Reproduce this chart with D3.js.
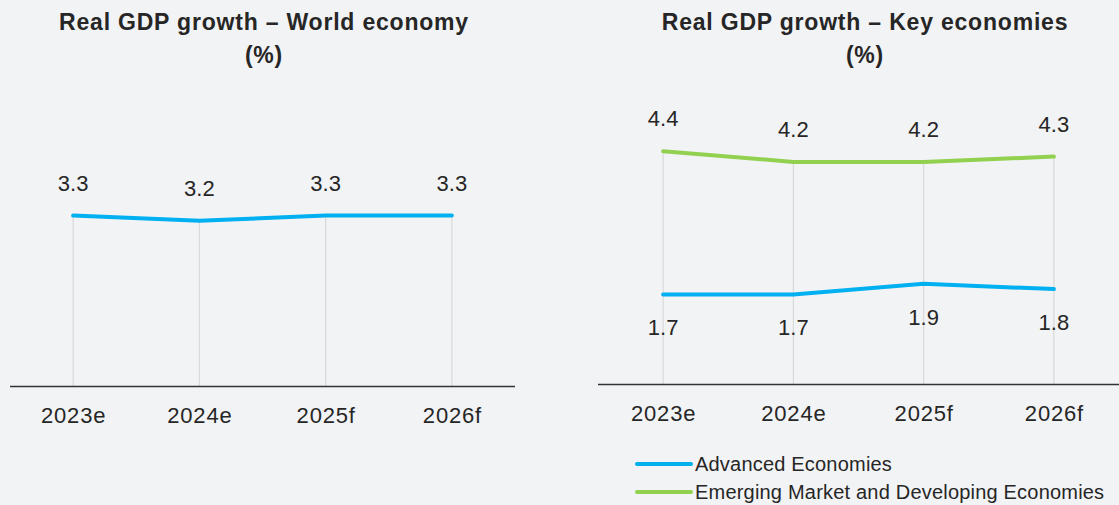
<!DOCTYPE html>
<html>
<head>
    <title>Real GDP growth</title>
    <style>
        body { margin: 0; background: #f2f3f5; }
        svg { display: block; font-family: "Liberation Sans", Arial, sans-serif; }
        .title { font-size: 23px; font-weight: bold; fill: #262626; letter-spacing: 0.8px; }
        .axis text { font-size: 22px; fill: #262626; letter-spacing: 0.8px; }
        .axis path { stroke: #333; stroke-width: 1.5; }
        .drop { stroke: #d9d9d9; stroke-width: 1.2; }
        .value { font-size: 22px; fill: #262626; text-anchor: middle; }
        .legend text { font-size: 20px; fill: #262626; letter-spacing: 0.2px; }
    </style>
</head>
<body>
    <svg id="chart" width="1119" height="505"></svg>

    <script src="https://d3js.org/d3.v7.min.js"></script>
    <script>
        // chart values
        const years = ['2023e', '2024e', '2025f', '2026f'];
        const world = [3.3, 3.2, 3.3, 3.3];
        const advanced = [1.7, 1.7, 1.9, 1.8];
        const emerging = [4.4, 4.2, 4.2, 4.3];
        const seriesNames = ['Advanced Economies', 'Emerging Market and Developing Economies'];

        const blue = '#00b0f0', green = '#92d050';
        const svg = d3.select('#chart');

        // draws one panel: baseline axis, drop lines, series lines, value labels
        function panel(opts) {
            const x = d3.scalePoint().domain(years).range([opts.x0, opts.x1]).padding(0.5);
            const y = d3.scaleLinear().domain([0, 5]).range([opts.base, opts.base - 5 * opts.unit]);

            const g = svg.append('g');

            // drop lines from the highest series down to the baseline
            g.selectAll('.drop')
                .data(years)
                .enter().append('line')
                .attr('class', 'drop')
                .attr('x1', d => x(d)).attr('x2', d => x(d))
                .attr('y1', (d, i) => y(d3.max(opts.series, s => s.values[i])))
                .attr('y2', y(0));

            g.append('g')
                .attr('class', 'axis')
                .attr('transform', `translate(0,${y(0)})`)
                .call(d3.axisBottom(x).tickSize(0).tickSizeOuter(0).tickPadding(21))
                .call(a => a.select('.domain').attr('d', `M${opts.x0},0H${opts.x1}`))
                .selectAll('text').attr('font-family', null).attr('font-size', null);

            const line = d3.line().x((d, i) => x(years[i])).y(d => y(d));

            opts.series.forEach(s => {
                g.append('path')
                    .datum(s.values)
                    .attr('fill', 'none')
                    .attr('stroke', s.color)
                    .attr('stroke-width', 4)
                    .attr('stroke-linecap', 'round')
                    .attr('d', line);

                g.selectAll(null)
                    .data(s.values)
                    .enter().append('text')
                    .attr('class', 'value')
                    .attr('x', (d, i) => x(years[i]))
                    .attr('y', d => y(d) + s.labelOffset)
                    .text(d => d.toFixed(1));
            });

            const t = svg.append('text')
                .attr('class', 'title')
                .attr('text-anchor', 'middle')
                .attr('x', opts.titleX)
                .attr('y', 30);
            t.append('tspan').attr('x', opts.titleX).text(opts.title);
            t.append('tspan').attr('x', opts.titleX).attr('dy', 33).text('(%)');
        }

        panel({
            x0: 10, x1: 515, base: 386.5, unit: 51.8,
            titleX: 264, title: 'Real GDP growth \u2013 World economy',
            series: [{ values: world, color: blue, labelOffset: -25 }]
        });

        panel({
            x0: 598, x1: 1119, base: 384.5, unit: 53,
            titleX: 865, title: 'Real GDP growth \u2013 Key economies',
            series: [
                { values: advanced, color: blue, labelOffset: 41 },
                { values: emerging, color: green, labelOffset: -25 }
            ]
        });

        // legend
        const legend = svg.append('g').attr('class', 'legend');
        const items = legend.selectAll('g')
            .data(seriesNames)
            .enter().append('g')
            .attr('transform', (d, i) => `translate(637,${464 + i * 28})`);
        items.append('line')
            .attr('x1', 0).attr('x2', 54)
            .attr('stroke', (d, i) => i === 0 ? blue : green)
            .attr('stroke-width', 4)
            .attr('stroke-linecap', 'round');
        items.append('text')
            .attr('x', 58)
            .attr('y', 7)
            .text(d => d);
    </script>
</body>
</html>
